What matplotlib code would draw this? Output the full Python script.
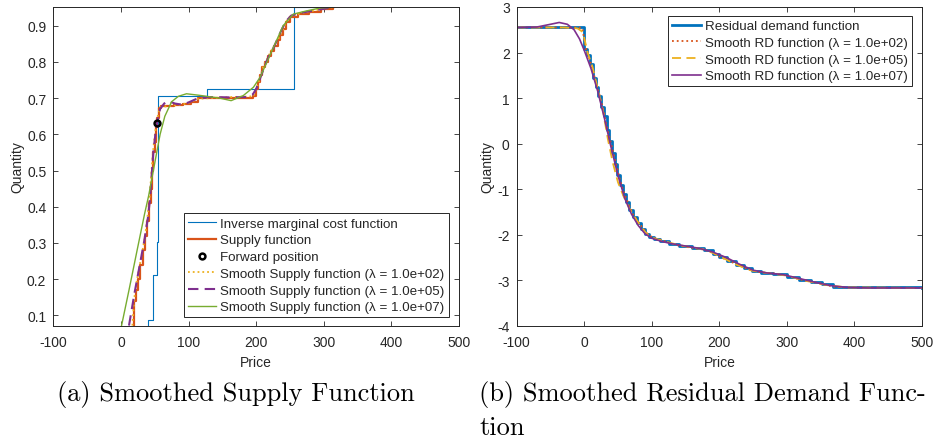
import matplotlib
matplotlib.use("Agg")
import matplotlib.pyplot as plt

# ── Colours (MATLAB default order) ────────────────────────────────────────────
BLUE   = "#0072BD"
ORANGE = "#D95319"
YELLOW = "#EDB120"
PURPLE = "#7E2F8E"
GREEN  = "#77AC30"
AXCOL  = "#262626"

LAMBDAS = ["1.0e+02", "1.0e+05", "1.0e+07"]

# ── (a) supply side ───────────────────────────────────────────────────────────
MC_P = [39.6, 39.6, 47.9, 52.9, 54.2, 126.9, 256.4, 315]
MC_Q = [0.0, 0.086, 0.212, 0.302, 0.706, 0.725, 0.951, 0.951]

SUP_P = [19, 19, 22, 25, 28, 32, 36, 39, 42, 44, 46, 48, 50, 52, 54, 57, 60,
         78, 92, 103, 114, 196, 200, 203, 206, 209, 213, 217, 222, 227, 232,
         236, 240, 244, 250, 262, 278, 296, 313]
SUP_Q = [0.0, 0.14, 0.17, 0.20, 0.24, 0.28, 0.32, 0.36, 0.41, 0.45, 0.50, 0.55,
         0.58, 0.62, 0.645, 0.672, 0.677, 0.680, 0.684, 0.69, 0.700, 0.705,
         0.725, 0.745, 0.765, 0.785, 0.80, 0.815, 0.83, 0.845, 0.86, 0.875,
         0.89, 0.91, 0.925, 0.932, 0.938, 0.945, 0.951]

FWD_P = [52.9]
FWD_Q = [0.631]

SS2_P = [17, 20, 23, 27, 31, 35, 38, 41, 43, 45, 47, 49, 51, 53, 55, 58, 75,
         90, 100, 114, 150, 196, 200, 204, 207, 210, 214, 218, 222, 227, 232,
         236, 240, 244, 250, 262, 276, 295, 313]
SS2_Q = [0.072, 0.15, 0.19, 0.23, 0.27, 0.31, 0.35, 0.40, 0.44, 0.49, 0.54,
         0.58, 0.61, 0.635, 0.655, 0.675, 0.679, 0.682, 0.687, 0.698, 0.702,
         0.705, 0.725, 0.745, 0.765, 0.785, 0.80, 0.815, 0.83, 0.845, 0.86,
         0.875, 0.89, 0.91, 0.925, 0.932, 0.938, 0.945, 0.951]

SS5_P = [12, 20, 25, 30, 35, 40, 43, 46, 48, 51, 54, 58, 64, 70, 80, 90, 100,
         112, 130, 160, 185, 195, 200, 205, 210, 215, 220, 226, 232, 238, 244,
         252, 265, 280, 298, 314]
SS5_Q = [0.072, 0.16, 0.21, 0.26, 0.31, 0.37, 0.42, 0.50, 0.55, 0.60, 0.64,
         0.67, 0.685, 0.692, 0.685, 0.682, 0.688, 0.698, 0.703, 0.702, 0.703,
         0.71, 0.725, 0.75, 0.775, 0.80, 0.82, 0.84, 0.865, 0.89, 0.912,
         0.928, 0.935, 0.94, 0.946, 0.951]

SS7_P = [1, 12, 24, 35, 41, 47, 53, 58, 65, 75, 85, 97, 115, 146, 163, 181,
         196, 206, 216, 228, 240, 255, 275, 295, 314]
SS7_Q = [0.072, 0.17, 0.28, 0.38, 0.43, 0.49, 0.55, 0.60, 0.65, 0.69, 0.705,
         0.712, 0.708, 0.700, 0.693, 0.707, 0.730, 0.758, 0.80, 0.85, 0.90,
         0.932, 0.941, 0.949, 0.951]

# ── (b) residual demand side ──────────────────────────────────────────────────
RD_P = [-100, 0, 4, 9, 13, 17, 21, 25, 29, 33, 37, 41, 45, 49, 53, 57, 62, 67,
        72, 78, 84, 90, 96, 104, 112, 125, 140, 160, 178, 190, 200, 212, 224,
        236, 248, 262, 280, 300, 318, 335, 352, 368, 500]
RD_Q = [2.55, 2.08, 1.95, 1.75, 1.45, 1.25, 1.05, 0.80, 0.60, 0.30, 0.05,
        -0.20, -0.45, -0.70, -0.90, -1.10, -1.28, -1.45, -1.62, -1.75, -1.88,
        -1.98, -2.06, -2.10, -2.13, -2.20, -2.26, -2.30, -2.34, -2.42, -2.50,
        -2.58, -2.66, -2.74, -2.80, -2.84, -2.86, -2.92, -3.00, -3.04, -3.09,
        -3.16, -3.17]

SRD2_P = [-100, -10, -3, 0, 3, 8, 13, 18, 23, 28, 33, 38, 43, 48, 53, 58, 65,
          72, 80, 88, 96, 105, 115, 125, 140, 160, 178, 190, 200, 212, 224,
          236, 248, 262, 280, 300, 318, 335, 352, 368, 385, 500]
SRD2_Q = [2.55, 2.55, 2.54, 2.3, 2.05, 1.85, 1.6, 1.3, 1.05, 0.75, 0.4, 0.1,
          -0.2, -0.5, -0.8, -1.05, -1.3, -1.55, -1.72, -1.88, -2.02, -2.08,
          -2.12, -2.18, -2.24, -2.29, -2.33, -2.40, -2.48, -2.56, -2.64, -2.72,
          -2.79, -2.83, -2.85, -2.90, -2.98, -3.03, -3.08, -3.14, -3.16, -3.17]

SRD5_P = [-100, -30, -10, -2, 5, 12, 20, 28, 35, 42, 50, 58, 66, 75, 85, 95,
          105, 120, 140, 160, 180, 200, 224, 248, 270, 300, 330, 360, 390, 500]
SRD5_Q = [2.55, 2.55, 2.53, 2.45, 2.0, 1.7, 1.2, 0.7, 0.1, -0.4, -0.85, -1.15,
          -1.4, -1.62, -1.85, -2.02, -2.09, -2.15, -2.23, -2.28, -2.33, -2.47,
          -2.65, -2.79, -2.84, -2.90, -3.02, -3.11, -3.16, -3.17]

SRD7_P = [-100, -70, -50, -37, -25, -15, -7, 0, 10, 20, 30, 40, 50, 60, 70,
          80, 90, 100, 115, 130, 150, 170, 190, 210, 230, 250, 270, 295, 315,
          340, 365, 390, 420, 500]
SRD7_Q = [2.55, 2.56, 2.62, 2.66, 2.62, 2.5, 2.3, 2.05, 1.65, 1.15, 0.55, -0.1,
          -0.7, -1.2, -1.55, -1.8, -1.98, -2.08, -2.15, -2.2, -2.25, -2.3,
          -2.38, -2.5, -2.65, -2.78, -2.84, -2.88, -2.95, -3.04, -3.12, -3.16,
          -3.17, -3.17]

# ── Style ─────────────────────────────────────────────────────────────────────
plt.rcParams["font.family"] = ["Liberation Sans", "DejaVu Sans"]
plt.rcParams["font.size"] = 10
plt.rcParams["axes.unicode_minus"] = False

TICK_FS = 10
LEG_FS  = 9.6


def style_axes(ax, ylim, yticks):
    ax.set_xlim(-100, 500)
    ax.set_ylim(*ylim)
    ax.set_xticks(range(-100, 501, 100))
    ax.set_yticks(yticks)
    ax.tick_params(direction="in", top=True, right=True, length=3.5,
                   width=0.6, colors=AXCOL, labelsize=TICK_FS)
    ax.tick_params(axis="x", pad=7)
    ax.tick_params(axis="y", pad=5)
    for sp in ax.spines.values():
        sp.set_color(AXCOL)
        sp.set_linewidth(0.7)
    ax.set_xlabel("Price", fontsize=TICK_FS, color=AXCOL, labelpad=4)
    ax.set_ylabel("Quantity", fontsize=TICK_FS, color=AXCOL, labelpad=2)


def add_legend(ax, loc, anchor):
    leg = ax.legend(loc=loc, bbox_to_anchor=anchor, borderaxespad=0,
                    fontsize=LEG_FS, handlelength=2.15, handletextpad=0.3,
                    labelspacing=0.33, borderpad=0.3, fancybox=False,
                    framealpha=1)
    leg.get_frame().set_edgecolor(AXCOL)
    leg.get_frame().set_linewidth(0.7)
    for t in leg.get_texts():
        t.set_color(AXCOL)
    return leg


fig = plt.figure(figsize=(9.36, 4.39), dpi=100)
ax1 = fig.add_axes([0.0569, 0.2558, 0.4335, 0.726])
ax2 = fig.add_axes([0.5520, 0.2558, 0.4330, 0.726])

# ── (a) ───────────────────────────────────────────────────────────────────────
ax1.step(MC_P, MC_Q, where="post", color=BLUE, lw=0.8,
         label="Inverse marginal cost function")
ax1.step(SUP_P, SUP_Q, where="post", color=ORANGE, lw=1.6,
         label="Supply function")
ax1.plot(FWD_P, FWD_Q, "o", mfc="none", mec="black", mew=1.8, ms=4.2,
         label="Forward position", zorder=6)
ax1.plot(SS2_P, SS2_Q, ":", color=YELLOW, lw=1.3,
         label=f"Smooth Supply function (λ = {LAMBDAS[0]})")
ax1.plot(SS5_P, SS5_Q, "--", color=PURPLE, lw=1.5, dashes=(5, 3),
         label=f"Smooth Supply function (λ = {LAMBDAS[1]})")
ax1.plot(SS7_P, SS7_Q, "-", color=GREEN, lw=1.0,
         label=f"Smooth Supply function (λ = {LAMBDAS[2]})")
style_axes(ax1, (0.0716, 0.9516), [0.1, 0.2, 0.3, 0.4, 0.5, 0.6, 0.7, 0.8, 0.9])
add_legend(ax1, "lower right", (0.975, 0.026))

# ── (b) ───────────────────────────────────────────────────────────────────────
ax2.step(RD_P, RD_Q, where="post", color=BLUE, lw=2.0,
         label="Residual demand function")
ax2.plot(SRD2_P, SRD2_Q, ":", color=ORANGE, lw=1.3,
         label=f"Smooth RD function (λ = {LAMBDAS[0]})")
ax2.plot(SRD5_P, SRD5_Q, "--", color=YELLOW, lw=1.3, dashes=(5, 3),
         label=f"Smooth RD function (λ = {LAMBDAS[1]})")
ax2.plot(SRD7_P, SRD7_Q, "-", color=PURPLE, lw=1.2,
         label=f"Smooth RD function (λ = {LAMBDAS[2]})")
style_axes(ax2, (-4, 3), range(-4, 4))
add_legend(ax2, "upper right", (0.975, 0.972))

# ── Captions ──────────────────────────────────────────────────────────────────
cap = dict(family=["cmr10", "DejaVu Serif"], fontsize=19, color="black")
fig.text(235.5 / 936, 1 - 395 / 439, "(a) Smoothed Supply Function",
         ha="center", va="center", **cap)
fig.text(479 / 936, 1 - 395 / 439, "(b) Smoothed Residual Demand Func-",
         ha="left", va="center", **cap)
fig.text(479 / 936, 1 - 428 / 439, "tion", ha="left", va="center", **cap)

fig.savefig("out.png", dpi=100)
